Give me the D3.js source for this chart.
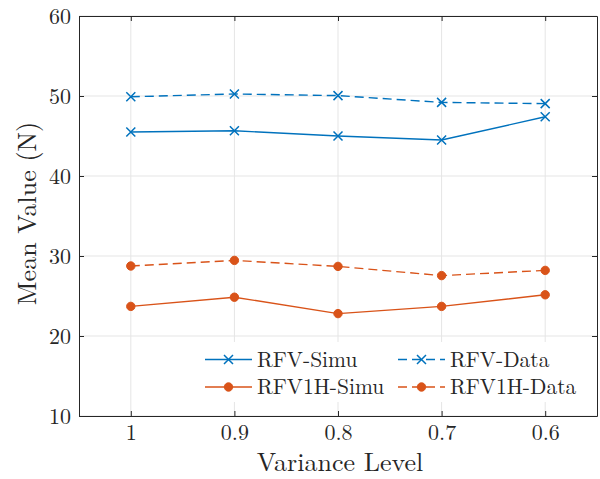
<!DOCTYPE html>
<html>
<head>
<meta charset="utf-8">
<script src="https://cdn.jsdelivr.net/npm/d3@7"></script>
<style>
  html, body { margin: 0; padding: 0; background: #fff; }
</style>
</head>
<body>
<svg id="chart" width="600" height="479"></svg>
<script>
// Variance levels on the x axis (descending left to right)
const levels = [1, 0.9, 0.8, 0.7, 0.6];
const xTickLabels = ["1", "0.9", "0.8", "0.7", "0.6"];
const yTicks = [10, 20, 30, 40, 50, 60];

// Mean values (N) per series
const rfvSimu   = [45.5, 45.65, 45.0, 44.5, 47.4];
const rfvData   = [49.9, 50.25, 50.05, 49.2, 49.05];
const rfv1hSimu = [23.7, 24.85, 22.8, 23.7, 25.15];
const rfv1hData = [28.75, 29.45, 28.7, 27.55, 28.2];

const seriesNames = ["RFV-Simu", "RFV-Data", "RFV1H-Simu", "RFV1H-Data"];

const FONT = '"Latin Modern Roman", "CMU Serif", "Liberation Serif", serif';
const blue = "#0072BD", orange = "#D95319";
const axisColor = "#262626", gridColor = "#e5e5e5";

const series = [
  { name: seriesNames[0], values: rfvSimu,   color: blue,   dash: null,  marker: "x" },
  { name: seriesNames[1], values: rfvData,   color: blue,   dash: "9,5", marker: "x" },
  { name: seriesNames[2], values: rfv1hSimu, color: orange, dash: null,  marker: "o" },
  { name: seriesNames[3], values: rfv1hData, color: orange, dash: "9,5", marker: "o" }
];

const svg = d3.select("#chart");
const m = { left: 79, right: 597, top: 16, bottom: 416 };

const x = d3.scaleLinear().domain([1.05, 0.55]).range([m.left, m.right]);
const y = d3.scaleLinear().domain([10, 60]).range([m.bottom, m.top]);

// Grid lines
const grid = svg.append("g");
grid.selectAll("line.gx").data(levels).join("line")
  .attr("x1", d => x(d)).attr("x2", d => x(d))
  .attr("y1", m.top).attr("y2", m.bottom)
  .attr("stroke", gridColor).attr("stroke-width", 1);
grid.selectAll("line.gy").data(yTicks).join("line")
  .attr("y1", d => y(d)).attr("y2", d => y(d))
  .attr("x1", m.left).attr("x2", m.right)
  .attr("stroke", gridColor).attr("stroke-width", 1);

// Series lines and markers
const line = d3.line().x((d, i) => x(levels[i])).y(d => y(d));
const plot = svg.append("g");

function drawMarker(g, type, cx, cy, color) {
  if (type === "x") {
    const s = 4.5;
    g.append("path")
      .attr("d", `M${cx - s},${cy - s}L${cx + s},${cy + s}M${cx - s},${cy + s}L${cx + s},${cy - s}`)
      .attr("stroke", color).attr("stroke-width", 1.5).attr("fill", "none");
  } else {
    g.append("circle").attr("cx", cx).attr("cy", cy).attr("r", 4.2)
      .attr("fill", color).attr("stroke", color).attr("stroke-width", 1);
  }
}

series.forEach(s => {
  plot.append("path")
    .attr("d", line(s.values))
    .attr("fill", "none")
    .attr("stroke", s.color)
    .attr("stroke-width", 1.4)
    .attr("stroke-dasharray", s.dash);
  s.values.forEach((v, i) => drawMarker(plot, s.marker, x(levels[i]), y(v), s.color));
});

// Axes (box with inward ticks on all sides)
const xAxisB = d3.axisBottom(x).tickValues(levels).tickFormat((d, i) => xTickLabels[i]).tickSizeInner(-5).tickSizeOuter(0).tickPadding(8);
const xAxisT = d3.axisTop(x).tickValues(levels).tickFormat("").tickSizeInner(-5).tickSizeOuter(0);
const yAxisL = d3.axisLeft(y).tickValues(yTicks).tickSizeInner(-5).tickSizeOuter(0).tickPadding(8);
const yAxisR = d3.axisRight(y).tickValues(yTicks).tickFormat("").tickSizeInner(-5).tickSizeOuter(0);

function styleAxis(g) {
  g.attr("font-family", FONT).attr("font-size", 22);
  g.select(".domain").attr("stroke", axisColor).attr("stroke-width", 1);
  g.selectAll(".tick line").attr("stroke", axisColor).attr("stroke-width", 1);
  g.selectAll(".tick text").attr("fill", axisColor);
}

svg.append("g").attr("transform", `translate(0,${m.bottom})`).call(xAxisB).call(styleAxis);
svg.append("g").attr("transform", `translate(0,${m.top})`).call(xAxisT).call(styleAxis);
svg.append("g").attr("transform", `translate(${m.left},0)`).call(yAxisL).call(styleAxis);
svg.append("g").attr("transform", `translate(${m.right},0)`).call(yAxisR).call(styleAxis);

// Axis titles
svg.append("text")
  .attr("x", 340).attr("y", 471)
  .attr("text-anchor", "middle")
  .attr("font-family", FONT).attr("font-size", 26).attr("fill", axisColor)
  .text("Variance Level");
svg.append("text")
  .attr("transform", `translate(36,213.5) rotate(-90)`)
  .attr("text-anchor", "middle")
  .attr("font-family", FONT).attr("font-size", 26).attr("fill", axisColor)
  .text("Mean Value (N)");

// Legend
const legend = svg.append("g");
legend.append("rect").attr("x", 198).attr("y", 342).attr("width", 394).attr("height", 60)
  .attr("fill", "#fff");
const cols = [205, 398];
const rows = [359.5, 387];
series.forEach((s, i) => {
  const lx = cols[i % 2], ly = rows[Math.floor(i / 2)];
  legend.append("line")
    .attr("x1", lx).attr("x2", lx + 47).attr("y1", ly).attr("y2", ly)
    .attr("stroke", s.color).attr("stroke-width", 1.4)
    .attr("stroke-dasharray", s.dash ? "9,5" : null);
  drawMarker(legend, s.marker, lx + 23.5, ly, s.color);
  legend.append("text")
    .attr("x", lx + 52).attr("y", ly + 7)
    .attr("font-family", FONT).attr("font-size", 21.5).attr("fill", axisColor)
    .text(s.name);
});
</script>
</body>
</html>
